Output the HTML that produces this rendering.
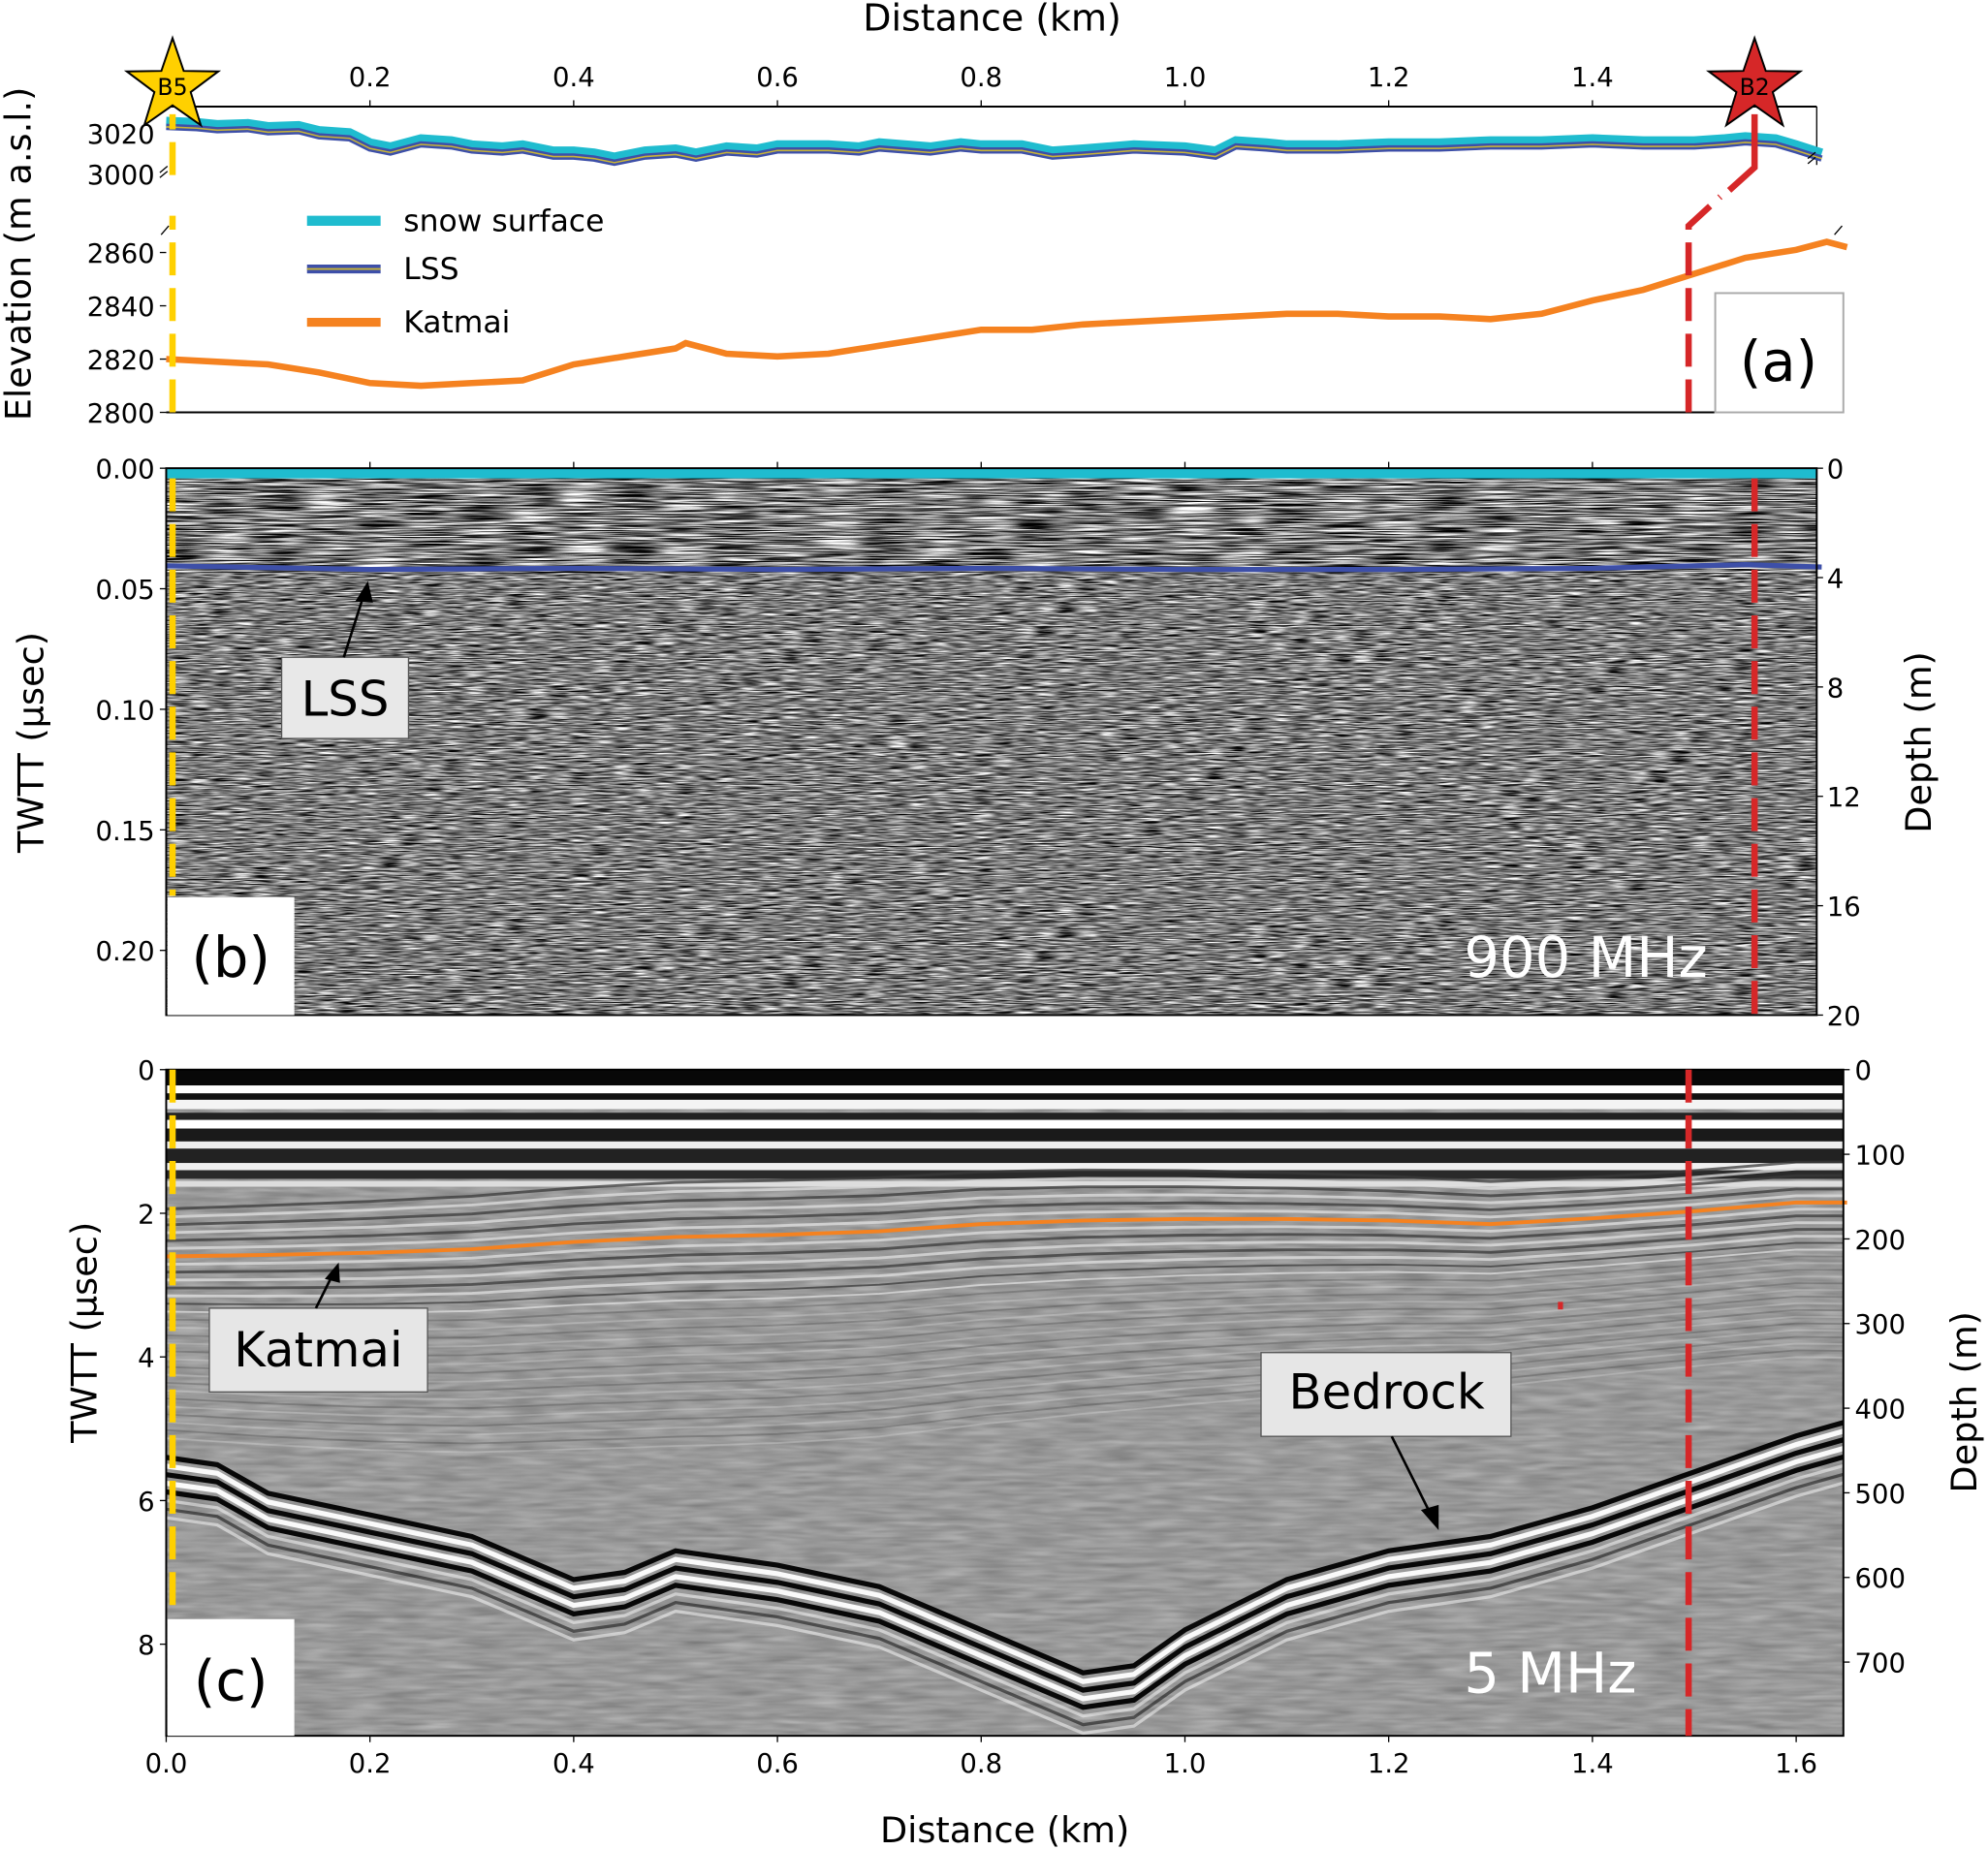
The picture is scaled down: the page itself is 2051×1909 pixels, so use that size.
<!DOCTYPE html>
<html><head><meta charset="utf-8"><style>
html,body{margin:0;padding:0;background:#fff;}
svg{display:block;font-family:"DejaVu Sans","Liberation Sans",sans-serif;}
</style></head><body>
<svg id="fig" width="2051" height="1909" viewBox="0 0 1567 1458" preserveAspectRatio="none" xmlns="http://www.w3.org/2000/svg">
<defs>
<filter id="noiseB" x="0" y="0" width="100%" height="100%" color-interpolation-filters="sRGB">
<feTurbulence type="fractalNoise" baseFrequency="0.025 1.1" numOctaves="2" seed="3"/>
<feColorMatrix type="matrix" values="0.33 0.33 0.33 0 0 0.33 0.33 0.33 0 0 0.33 0.33 0.33 0 0 0 0 0 0 1"/>
<feComponentTransfer><feFuncR type="linear" slope="5" intercept="-2.0"/><feFuncG type="linear" slope="5" intercept="-2.0"/><feFuncB type="linear" slope="5" intercept="-2.0"/></feComponentTransfer>
</filter>
<filter id="noiseB2" x="0" y="0" width="100%" height="100%" color-interpolation-filters="sRGB">
<feTurbulence type="fractalNoise" baseFrequency="0.06 1.0" numOctaves="2" seed="9"/>
<feColorMatrix type="matrix" values="0.33 0.33 0.33 0 0 0.33 0.33 0.33 0 0 0.33 0.33 0.33 0 0 0 0 0 0 1"/>
<feComponentTransfer><feFuncR type="linear" slope="3.2" intercept="-1.1"/><feFuncG type="linear" slope="3.2" intercept="-1.1"/><feFuncB type="linear" slope="3.2" intercept="-1.1"/></feComponentTransfer>
</filter>
<filter id="noiseC" x="0" y="0" width="100%" height="100%" color-interpolation-filters="sRGB">
<feTurbulence type="fractalNoise" baseFrequency="0.03 0.25" numOctaves="2" seed="5"/>
<feColorMatrix type="matrix" values="0.33 0.33 0.33 0 0 0.33 0.33 0.33 0 0 0.33 0.33 0.33 0 0 0 0 0 0 1"/>
<feComponentTransfer><feFuncR type="linear" slope="1.2" intercept="0.0"/><feFuncG type="linear" slope="1.2" intercept="0.0"/><feFuncB type="linear" slope="1.2" intercept="0.0"/></feComponentTransfer>
</filter>
<clipPath id="clipB"><rect x="131" y="369" width="1301" height="431"/></clipPath>
<clipPath id="clipC"><rect x="131" y="843" width="1322" height="525"/></clipPath>
</defs>

<!-- Panel (a) -->
<g>
<text x="782" y="24" font-size="29" text-anchor="middle">Distance (km)</text>
<line x1="131" y1="84" x2="1432" y2="84" stroke="#000" stroke-width="1.5"/>
<line x1="1432" y1="84" x2="1432" y2="130" stroke="#000" stroke-width="1"/>
<line x1="131" y1="325" x2="1453" y2="325" stroke="#000" stroke-width="1.5"/>
<g id="aTopTicks"></g>
<g id="aYTicks"></g>
<text transform="translate(24,200) rotate(-90)" font-size="28" text-anchor="middle">Elevation (m a.s.l.)</text>
<g id="aSeries"></g>
<rect x="1352" y="231" width="101" height="94" fill="#fff" stroke="#aaa" stroke-width="1.5"/>
<text x="1402" y="300" font-size="44" text-anchor="middle">(a)</text>
<g>
<line x1="242" y1="174" x2="300" y2="174" stroke="#1fbccf" stroke-width="8"/>
<text x="318" y="182" font-size="24">snow surface</text>
<line x1="242" y1="212" x2="300" y2="212" stroke="#3d4fa8" stroke-width="7"/>
<line x1="242" y1="212" x2="300" y2="212" stroke="#c8b438" stroke-width="1.5"/>
<text x="318" y="220" font-size="24">LSS</text>
<line x1="242" y1="254" x2="300" y2="254" stroke="#f58220" stroke-width="7"/>
<text x="318" y="262" font-size="24">Katmai</text>
</g>
<path d="M1331,325 L1331,178 L1356,155" fill="none" stroke="#d62728" stroke-width="5" stroke-dasharray="26,10"/>
<path d="M1363,150 L1383,132 L1383,90" fill="none" stroke="#d62728" stroke-width="5"/>
<line x1="136" y1="325" x2="136" y2="170" stroke="#ffd000" stroke-width="5" stroke-dasharray="26,10"/>
<line x1="136" y1="138" x2="136" y2="90" stroke="#ffd000" stroke-width="5" stroke-dasharray="26,10"/>
<path d="M126,136 l6,-5 M126,140 l6,-5 M1425,125 l6,-5 M1425,129 l6,-5" stroke="#000" stroke-width="1"/>
<path d="M127,185 l6,-7 M1446,185 l6,-7" stroke="#000" stroke-width="1"/>
<g>
<polygon id="starB5" fill="#ffd000" stroke="#000" stroke-width="1.5"/>
<text x="136" y="75" font-size="18" text-anchor="middle">B5</text>
</g>
<g>
<polygon id="starB2" fill="#d62728" stroke="#000" stroke-width="1.5"/>
<text x="1383" y="75" font-size="18" text-anchor="middle">B2</text>
</g>
</g>

<!-- Panel (b) -->
<g>
<rect x="131" y="369" width="1301" height="431" fill="#808080"/>
<g clip-path="url(#clipB)">
<rect x="131" y="377" width="1301" height="75" filter="url(#noiseB)"/>
<rect x="131" y="452" width="1301" height="348" filter="url(#noiseB2)"/>
</g>
<rect x="131" y="369" width="1301" height="8" fill="#1fbccf"/>
<path id="lssLine" fill="none" stroke="#3d4fa8" stroke-width="4"/>
<rect x="131" y="369" width="1301" height="431" fill="none" stroke="#000" stroke-width="1.5"/>
<line x1="136" y1="377" x2="136" y2="706" stroke="#ffd000" stroke-width="5" stroke-dasharray="26,10"/>
<line x1="1383" y1="377" x2="1383" y2="800" stroke="#d62728" stroke-width="5" stroke-dasharray="26,10"/>
<g id="bTicks"></g>
<text transform="translate(34,585) rotate(-90)" font-size="28" text-anchor="middle">TWTT (µsec)</text>
<text transform="translate(1522,585) rotate(-90)" font-size="28" text-anchor="middle">Depth (m)</text>
<rect x="222" y="518" width="100" height="64" fill="#e8e8e8" stroke="#555" stroke-width="1"/>
<text x="272" y="564" font-size="38" text-anchor="middle">LSS</text>
<line x1="271" y1="518" x2="287" y2="468" stroke="#000" stroke-width="2"/>
<polygon points="290,458 280,474 294,475" fill="#000"/>
<text x="1250" y="770" font-size="44" fill="#fff" text-anchor="middle">900 MHz</text>
<rect x="132" y="707" width="100" height="93" fill="#fff"/>
<text x="182" y="770" font-size="44" text-anchor="middle">(b)</text>
</g>

<!-- Panel (c) -->
<g>
<rect x="131" y="843" width="1322" height="525" fill="#9a9a9a"/>
<g clip-path="url(#clipC)">
<rect x="131" y="843" width="1322" height="525" filter="url(#noiseC)" opacity="0.35"/>
</g>
<g clip-path="url(#clipC)" id="cLayers"></g>
<path id="katmaiLine" fill="none" stroke="#f58220" stroke-width="3"/>
<rect x="131" y="843" width="1322" height="525" fill="none" stroke="#000" stroke-width="1.5"/>
<line x1="136" y1="843" x2="136" y2="1275" stroke="#ffd000" stroke-width="5" stroke-dasharray="26,10"/>
<line x1="1331" y1="843" x2="1331" y2="1368" stroke="#d62728" stroke-width="5" stroke-dasharray="26,10"/>
<line x1="1230" y1="1026" x2="1230" y2="1032" stroke="#d62728" stroke-width="4"/>
<g id="cTicks"></g>
<text transform="translate(76,1050) rotate(-90)" font-size="28" text-anchor="middle">TWTT (µsec)</text>
<text transform="translate(1558,1105) rotate(-90)" font-size="28" text-anchor="middle">Depth (m)</text>
<text x="792" y="1452" font-size="28" text-anchor="middle">Distance (km)</text>
<rect x="165" y="1031" width="172" height="66" fill="#e6e6e6" stroke="#555" stroke-width="1"/>
<text x="251" y="1077" font-size="38" text-anchor="middle">Katmai</text>
<line x1="249" y1="1031" x2="262" y2="1005" stroke="#000" stroke-width="2"/>
<polygon points="267,995 256,1008 268,1011" fill="#000"/>
<rect x="994" y="1066" width="197" height="66" fill="#e6e6e6" stroke="#555" stroke-width="1"/>
<text x="1093" y="1110" font-size="38" text-anchor="middle">Bedrock</text>
<line x1="1097" y1="1132" x2="1128" y2="1194" stroke="#000" stroke-width="2"/>
<polygon points="1134,1206 1120,1190 1134,1186" fill="#000"/>
<text x="1222" y="1334" font-size="44" fill="#fff" text-anchor="middle">5 MHz</text>
<rect x="132" y="1276" width="100" height="92" fill="#fff"/>
<text x="182" y="1340" font-size="44" text-anchor="middle">(c)</text>
</g>
</svg>
<script>
// ---- data ----
const distTicks = [0.2,0.4,0.6,0.8,1.0,1.2,1.4];
const distTicksBottom = [0.0,0.2,0.4,0.6,0.8,1.0,1.2,1.4,1.6];
const snowDist = [0,0.03,0.05,0.08,0.1,0.13,0.15,0.18,0.2,0.22,0.25,0.28,0.3,0.33,0.35,0.38,0.4,0.42,0.44,0.47,0.5,0.52,0.55,0.58,0.6,0.65,0.68,0.7,0.75,0.78,0.8,0.84,0.87,0.9,0.95,1.0,1.03,1.05,1.08,1.1,1.15,1.2,1.25,1.3,1.35,1.4,1.45,1.5,1.53,1.55,1.58,1.6,1.625];
const snowElev = [3025.6,3025,3024,3024.5,3023,3023.5,3021,3020,3015,3013,3017,3016,3014,3013,3014,3011,3011,3010,3008,3011,3012,3010,3013,3012,3014,3014,3013,3015,3013,3015,3014,3014,3011,3012,3014,3013,3011,3016,3015,3014,3014,3015,3015,3016,3016,3017,3016,3016,3017,3018,3017,3014,3010];
const lssOffset = 2.5;
const katDist = [0,0.1,0.15,0.2,0.25,0.3,0.35,0.4,0.45,0.5,0.51,0.55,0.6,0.65,0.7,0.75,0.8,0.85,0.9,0.95,1.0,1.05,1.1,1.15,1.2,1.25,1.3,1.35,1.4,1.45,1.5,1.55,1.6,1.63,1.65];
const katElev = [2820,2818,2815,2811,2810,2811,2812,2818,2821,2824,2826,2822,2821,2822,2825,2828,2831,2831,2833,2834,2835,2836,2837,2837,2836,2836,2835,2837,2842,2846,2852,2858,2861,2864,2862];
const elevTicksTop = [3000,3020];
const elevTicksBottom = [2800,2820,2840,2860];
const twttTicksB = [0.00,0.05,0.10,0.15,0.20];
const depthTicksB = [0,4,8,12,16,20];
const lssDist = [0,0.2,0.4,0.6,0.8,1.0,1.2,1.4,1.55,1.625];
const lssTwtt = [0.0405,0.042,0.0415,0.042,0.0415,0.042,0.042,0.0415,0.040,0.041];
const twttTicksC = [0,2,4,6,8];
const depthTicksC = [0,100,200,300,400,500,600,700];
const katTwDist = [0,0.1,0.2,0.3,0.4,0.5,0.6,0.7,0.8,0.9,1.0,1.1,1.2,1.3,1.4,1.5,1.6,1.65];
const katTwtt = [2.6,2.58,2.55,2.5,2.4,2.33,2.3,2.25,2.15,2.1,2.08,2.08,2.1,2.15,2.07,1.97,1.85,1.85];
const bedDist = [0,0.05,0.1,0.2,0.3,0.4,0.45,0.5,0.6,0.7,0.8,0.9,0.95,1.0,1.1,1.2,1.3,1.4,1.5,1.6,1.65];
const bedTwtt = [5.4,5.5,5.9,6.2,6.5,7.1,7.0,6.7,6.9,7.2,7.8,8.4,8.3,7.8,7.1,6.7,6.5,6.1,5.6,5.1,4.9];

// ---- axes ----
const xA = d => 131 + d*803;
const yTop = e => 105 + (3020-e)*1.6;
const yBot = e => 325 - (e-2800)*2.1;
const yB = t => 369 + t*1900;
const yBd = m => 369 + m*21.55;
const yC = t => 843 + t*56.6;
const yCd = m => 843 + m*0.667;
const NS = 'http://www.w3.org/2000/svg';
function mk(tag, attrs, parent){const e=document.createElementNS(NS,tag);for(const k in attrs)e.setAttribute(k,attrs[k]);parent.appendChild(e);return e;}
function pathD(xs, ys){return xs.map((v,i)=>(i?'L':'M')+v.toFixed(1)+','+ys[i].toFixed(1)).join(' ');}
function interp(xs, ys, x){if(x<=xs[0])return ys[0];for(let i=1;i<xs.length;i++){if(x<=xs[i]){const f=(x-xs[i-1])/(xs[i]-xs[i-1]);return ys[i-1]+f*(ys[i]-ys[i-1]);}}return ys[ys.length-1];}

// top ticks
const aTop=document.getElementById('aTopTicks');
distTicks.forEach(d=>{
  const l=mk('line',{x1:xA(d),y1:84,x2:xA(d),y2:79,stroke:'#000'},aTop);
  
  
  const t=mk('text',{x:xA(d),y:68,'font-size':21,'text-anchor':'middle'},aTop);
  t.textContent=d.toFixed(1);
  
  
});
const aY=document.getElementById('aYTicks');
elevTicksTop.forEach(e=>{
  const t=mk('text',{x:122,y:yTop(e)+8,'font-size':21,'text-anchor':'end'},aY);
  t.textContent=e;
  
  
});
elevTicksBottom.forEach(e=>{
  const l=mk('line',{x1:131,y1:yBot(e),x2:126,y2:yBot(e),stroke:'#000'},aY);
  
  
  const t=mk('text',{x:122,y:yBot(e)+8,'font-size':21,'text-anchor':'end'},aY);
  t.textContent=e;
  
  
});
// series
const aS=document.getElementById('aSeries');
const snowX=snowDist.map(xA);
const s1=mk('path',{d:pathD(snowX,snowElev.map(yTop)),fill:'none',stroke:'#1fbccf','stroke-width':8},aS);


const s2=mk('path',{d:pathD(snowX,snowElev.map(e=>yTop(e-lssOffset))),fill:'none',stroke:'#3d4fa8','stroke-width':5},aS);


const s3=mk('path',{d:pathD(snowX,snowElev.map(e=>yTop(e-lssOffset))),fill:'none',stroke:'#c8b438','stroke-width':1.2},aS);


const s4=mk('path',{d:pathD(katDist.map(xA),katElev.map(yBot)),fill:'none',stroke:'#f58220','stroke-width':5},aS);



// stars
function star(cx,cy,R,r){let p=[];for(let i=0;i<10;i++){const a=-Math.PI/2+i*Math.PI/5;const rr=i%2?r:R;p.push((cx+rr*Math.cos(a)).toFixed(1)+','+(cy+rr*Math.sin(a)).toFixed(1));}return p.join(' ');}
document.getElementById('starB5').setAttribute('points',star(136,68,38,15));
document.getElementById('starB2').setAttribute('points',star(1383,68,38,15));

// panel b
const bT=document.getElementById('bTicks');
twttTicksB.forEach(t=>{
  const l=mk('line',{x1:131,y1:yB(t),x2:126,y2:yB(t),stroke:'#000'},bT);
  
  
  const tx=mk('text',{x:122,y:yB(t)+8,'font-size':21,'text-anchor':'end'},bT);
  tx.textContent=t.toFixed(2);
  
  
});
depthTicksB.forEach(m=>{
  const l=mk('line',{x1:1432,y1:yBd(m),x2:1437,y2:yBd(m),stroke:'#000'},bT);
  
  
  const tx=mk('text',{x:1440,y:yBd(m)+8,'font-size':21},bT);
  tx.textContent=m;
  
  
});
distTicks.forEach(d=>{
  const l=mk('line',{x1:xA(d),y1:369,x2:xA(d),y2:364,stroke:'#000'},bT);
  
  
});
document.getElementById('lssLine').setAttribute('d',pathD(lssDist.map(xA),lssTwtt.map(yB)));

// panel c layers
const cL=document.getElementById('cLayers');
const topBands=[[0,0.22,'#080808'],[0.22,0.33,'#fff'],[0.33,0.42,'#111'],[0.42,0.55,'#f4f4f4'],[0.6,0.7,'#222'],[0.7,0.82,'#fff'],[0.82,1.0,'#1a1a1a'],[1.0,1.1,'#eee'],[1.1,1.3,'#222'],[1.3,1.4,'#f0f0f0'],[1.4,1.52,'#2a2a2a'],[1.55,1.63,'#ddd']];
topBands.forEach(b=>{
  const r=mk('rect',{x:131,y:yC(b[0]),width:1322,height:yC(b[1])-yC(b[0]),fill:b[2]},cL);
  
  
});
const fineX=[];for(let d=0;d<=1.66;d+=0.05)fineX.push(d);
for(let k=-6;k<24;k++){
  const off=k*0.11;
  const ys=fineX.map(d=>yC(interp(katTwDist,katTwtt,d)+off*(1+0.15*Math.sin(d*3))));
  const col=k%2?'#e0e0e0':'#3a3a3a';
  const p=mk('path',{d:pathD(fineX.map(xA),ys),fill:'none',stroke:col,'stroke-width':k<6?2.2:1.4,opacity:k<8?0.75:0.3},cL);
  
  
}
for(let k=0;k<8;k++){
  const ys=bedDist.map((d,i)=>yC(bedTwtt[i]+k*0.12));
  const p=mk('path',{d:pathD(bedDist.map(xA),ys),fill:'none',stroke:k%2?'#fff':'#000','stroke-width':k<5?4:2.5,opacity:k<5?0.95:0.5},cL);
  
  
}
document.getElementById('katmaiLine').setAttribute('d',pathD(katTwDist.map(xA),katTwtt.map(yC)));
const cT=document.getElementById('cTicks');
twttTicksC.forEach(t=>{
  const l=mk('line',{x1:131,y1:yC(t),x2:126,y2:yC(t),stroke:'#000'},cT);
  
  
  const tx=mk('text',{x:122,y:yC(t)+8,'font-size':21,'text-anchor':'end'},cT);
  tx.textContent=t;
  
  
});
depthTicksC.forEach(m=>{
  const l=mk('line',{x1:1453,y1:yCd(m),x2:1458,y2:yCd(m),stroke:'#000'},cT);
  
  
  const tx=mk('text',{x:1462,y:yCd(m)+8,'font-size':21},cT);
  tx.textContent=m;
  
  
});
distTicksBottom.forEach(d=>{
  const l=mk('line',{x1:xA(d),y1:1368,x2:xA(d),y2:1373,stroke:'#000'},cT);
  
  
  const tx=mk('text',{x:xA(d),y:1397,'font-size':21,'text-anchor':'middle'},cT);
  tx.textContent=d.toFixed(1);
  
  
});
</script>
</body></html>
